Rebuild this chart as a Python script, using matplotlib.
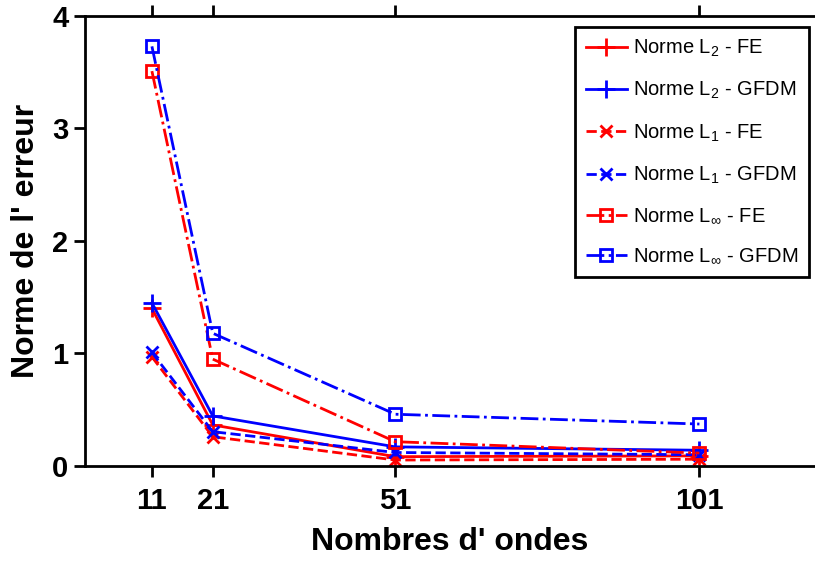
"""Norme de l'erreur vs nombre d'ondes (FE vs GFDM)."""
import matplotlib
matplotlib.use("Agg")
import matplotlib.pyplot as plt

plt.rcParams["font.family"] = ["Liberation Sans", "DejaVu Sans"]
plt.rcParams["mathtext.fontset"] = "custom"
plt.rcParams["mathtext.rm"] = "Liberation Sans"
plt.rcParams["mathtext.default"] = "regular"

waves = [11, 21, 51, 101]
tick_labels = ["11", "21", "51", "101"]

l2_fe = [1.40, 0.365, 0.083, 0.09]
l2_gfdm = [1.45, 0.445, 0.17, 0.14]
l1_fe = [0.97, 0.26, 0.053, 0.06]
l1_gfdm = [1.01, 0.305, 0.12, 0.10]
linf_fe = [3.51, 0.95, 0.216, 0.115]
linf_gfdm = [3.73, 1.18, 0.46, 0.373]

RED = "#ff0000"
BLUE = "#0000ff"


def main() -> None:
    fig = plt.figure(figsize=(8.15, 5.63), dpi=100)
    ax = fig.add_axes([0.1043, 0.1723, 0.8957, 0.7993])

    ax.plot(waves, l2_fe, color=RED, ls="-", lw=2, marker="+", ms=13, mew=2,
            label="Norme L$_2$ - FE")
    ax.plot(waves, l2_gfdm, color=BLUE, ls="-", lw=2, marker="+", ms=13, mew=2,
            label="Norme L$_2$ - GFDM")
    ax.plot(waves, l1_fe, color=RED, ls="--", lw=2, marker="x", ms=8, mew=2,
            label="Norme L$_1$ - FE")
    ax.plot(waves, l1_gfdm, color=BLUE, ls="--", lw=2, marker="x", ms=8, mew=2,
            label="Norme L$_1$ - GFDM")
    ax.plot(waves, linf_fe, color=RED, ls="-.", lw=2, marker="s", ms=9, mew=2,
            mfc="none", label="Norme L$_\\infty$ - FE")
    ax.plot(waves, linf_gfdm, color=BLUE, ls="-.", lw=2, marker="s", ms=9, mew=2,
            mfc="none", label="Norme L$_\\infty$ - GFDM")

    ax.set_xlim(0, 120)
    ax.set_ylim(0, 4)
    ax.set_xticks(waves)
    ax.set_xticklabels(tick_labels)
    ax.set_yticks([0, 1, 2, 3, 4])

    for side in ("left", "bottom", "top"):
        ax.spines[side].set_linewidth(2)
    ax.spines["right"].set_visible(False)
    ax.tick_params(direction="out", length=8, width=2, top=True,
                   labelsize=21, pad=4)
    ax.tick_params(axis="x", pad=7)
    for lab in ax.get_xticklabels() + ax.get_yticklabels():
        lab.set_fontweight("bold")

    ax.set_xlabel("Nombres d' ondes", fontsize=23, fontweight="bold", labelpad=9)
    ax.set_ylabel("Norme de l' erreur", fontsize=23, fontweight="bold", labelpad=8)

    leg = ax.legend(loc="upper right", bbox_to_anchor=(0.992, 0.976),
                    fontsize=14.5, handlelength=2.0, handletextpad=0.3,
                    labelspacing=1.04, borderpad=0.55, borderaxespad=0,
                    fancybox=False, framealpha=1, edgecolor="black")
    leg.get_frame().set_linewidth(2)

    fig.savefig("out.png", dpi=100)
    plt.close(fig)


if __name__ == "__main__":
    main()
